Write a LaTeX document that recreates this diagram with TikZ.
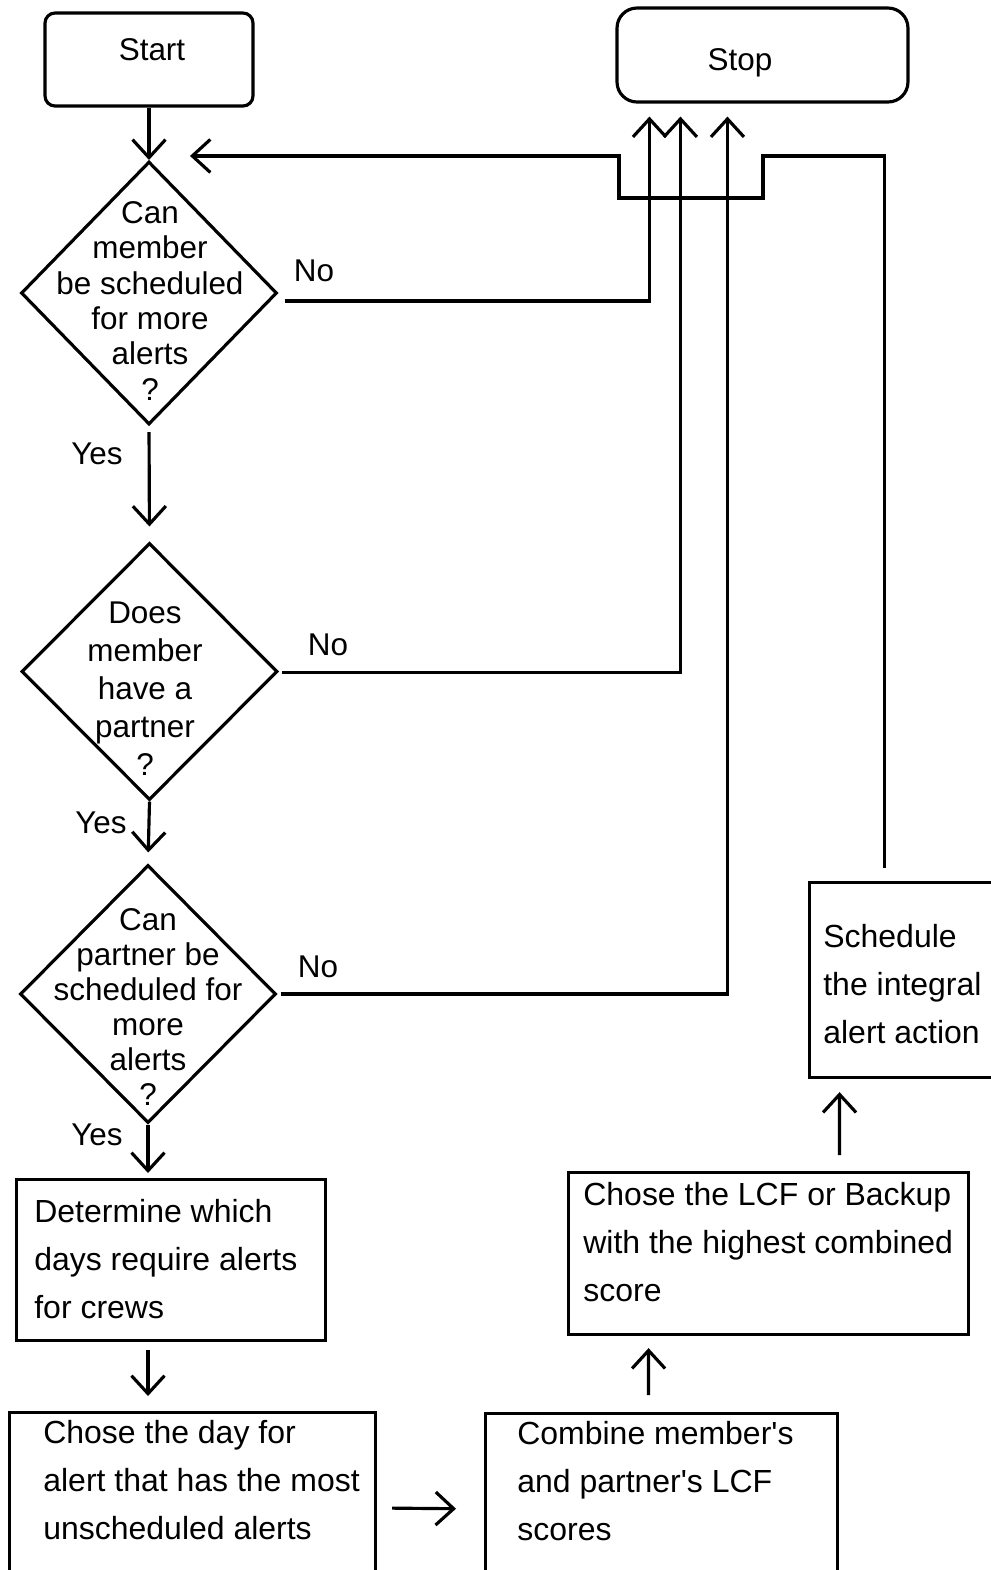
\documentclass[tikz,border=0pt]{standalone}
\usepackage{fontspec}
\setmainfont{Liberation Sans}
\usepackage{tikz}
\usetikzlibrary{arrows.meta,shapes.geometric,positioning}
\tikzset{
    terminal/.style={
    rectangle,draw=black,line width=1.8pt,inner sep=0pt
    },
    decision/.style={
    diamond,draw=black,line width=1.8pt,inner sep=0pt,minimum width=5.12cm,minimum height=5.26cm
    },
    process/.style={
    rectangle,draw=black,line width=1.8pt,inner sep=0pt,anchor=north west
    },
    qtext/.style={
    align=center,anchor=base,inner sep=0pt
    },
    ptext/.style={
    align=left,anchor=base west,inner sep=0pt,font=\fontsize{18.2}{27.3}\selectfont
    },
    answer/.style={
    anchor=base,inner sep=0pt
    },
    flow/.style={
    ->,line width=1.8pt
    },
}
\begin{document}
\begin{tikzpicture}[x=0.02cm,y=-0.02cm,>={Straight Barb[length=0.36cm,width=0.66cm]},font=\fontsize{17.9}{21}\selectfont]
   \useasboundingbox (0,0) rectangle (991,1570);
   % start / stop
   \node[terminal,rounded corners=0.2cm,minimum width=4.16cm,minimum height=1.86cm] (start) at (149,59.5) {};
   \node[answer] (starttext) at (152,60) {Start};
   \node[terminal,rounded corners=0.4cm,minimum width=5.82cm,minimum height=1.88cm] (stop) at (762.5,55) {};
   \node[answer] (stoptext) at (740,70) {Stop};
   % questions (text placed by its last line)
   \node[decision] (d1) at (149,293) {};
   \node[qtext,font=\fontsize{17.9}{20.1}\selectfont] (d1text) at (150,400) {Can\\member\\be scheduled\\for more\\alerts\\?};
   \node[decision,minimum height=5.14cm] (d2) at (149.5,671.5) {};
   \node[qtext,font=\fontsize{17.9}{21.6}\selectfont] (d2text) at (145,775) {Does\\member\\have a\\partner\\?};
   \node[decision,minimum height=5.16cm] (d3) at (148,994) {};
   \node[qtext,font=\fontsize{17.9}{19.9}\selectfont] (d3text) at (148,1105) {Can\\partner be\\scheduled for\\more\\alerts\\?};
   \node[answer] (yes1) at (97,464) {Yes};
   \node[answer] (no1) at (314,281) {No};
   \node[answer] (yes2) at (101,833) {Yes};
   \node[answer] (no2) at (328,655) {No};
   \node[answer] (yes3) at (97,1145) {Yes};
   \node[answer] (no3) at (318,977) {No};
   % steps
   \node[process,minimum width=6.18cm,minimum height=3.22cm] (det) at (15,1178) {};
   \node[ptext] (dettext) at (34,1318) {Determine which\\days require alerts\\for crews};
   \node[process,minimum width=7.32cm,minimum height=3.9cm] (chose) at (8,1411) {};
   \node[ptext] (chosetext) at (43,1539) {Chose the day for\\alert that has the most\\unscheduled alerts};
   \node[process,minimum width=7.04cm,minimum height=3.9cm] (comb) at (484,1412) {};
   \node[ptext] (combtext) at (517,1540) {Combine member\textquotesingle s\\and partner\textquotesingle s LCF\\scores};
   \node[process,minimum width=8cm,minimum height=3.24cm] (lcf) at (567,1171) {};
   \node[ptext] (lcftext) at (583,1301) {Chose the LCF or Backup\\with the highest combined\\score};
   \node[process,minimum width=3.9cm,minimum height=3.9cm] (sched) at (808,881) {};
   \node[ptext] (schedtext) at (823,1043) {Schedule\\the integral\\alert action};
   \coordinate (loopfrom) at ([shift={(-22.5,-13)}]sched.north);
   \coordinate (loopto) at ([shift={(41,-4)}]d1.north);

   \draw[flow] (start) -- (d1);
   \draw[flow,shorten <=0.12cm,shorten >=0.3cm] (d1.south) -- (d2.north);
   \draw[flow,shorten >=0.22cm] (d2.south) -- (d3.north);
   \draw[flow,shorten >=0.1cm] (d3.south) -- (d3.south |- det.north);
   \draw[flow,shorten <=0.16cm,shorten >=0.3cm] (det.south -| d3.south) -- (chose.north -| d3.south);
   \draw[flow,shorten <=0.3cm,shorten >=0.56cm] ([yshift=-1.94cm]chose.north east) -- ([yshift=-1.94cm]comb.north west);
   \draw[flow,shorten <=0.34cm,shorten >=0.24cm] ([xshift=-0.26cm]comb.north) -- ([xshift=-2.4cm]lcf.south);
   \draw[flow,shorten <=0.32cm,shorten >=0.26cm] ([xshift=1.42cm]lcf.north) -- ([xshift=-1.35cm]sched.south);
   % back to the first question
   \draw[flow] (loopfrom) |- (763,156) |- (619,198) |- (loopto);
   % no branches
   \draw[flow] ([shift={(6,8)}]d1.east) -| ([shift={(34,13)}]stop.south west);
   \draw[flow] ([shift={(3,1)}]d2.east) -| ([shift={(65,13)}]stop.south west);
   \draw[flow] ([shift={(3,0)}]d3.east) -| ([shift={(112,13)}]stop.south west);
\end{tikzpicture}
\end{document}
